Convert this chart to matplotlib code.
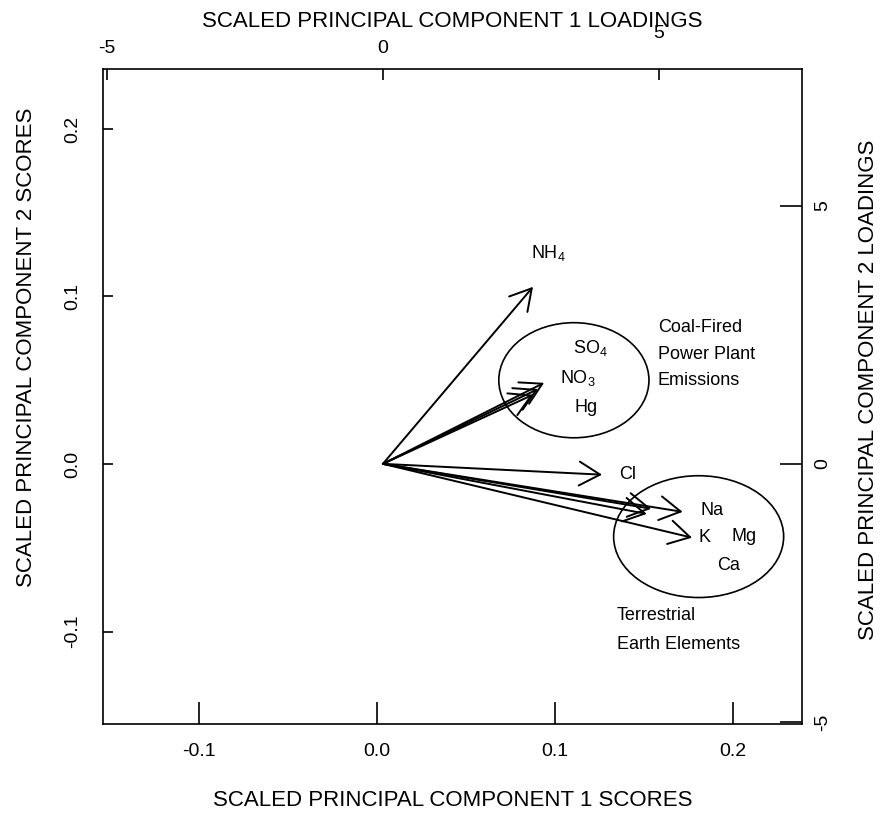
import matplotlib
matplotlib.use("Agg")
import matplotlib.pyplot as plt
from matplotlib.patches import Ellipse

plt.rcParams['font.family'] = ['Liberation Sans', 'DejaVu Sans']
plt.rcParams['mathtext.fontset'] = 'custom'
plt.rcParams['mathtext.rm'] = 'Liberation Sans'
plt.rcParams['mathtext.it'] = 'Liberation Sans'

# loadings (PC1, PC2)
species = ['NH4', 'SO4', 'NO3', 'Hg', 'Cl', 'Na', 'K', 'Mg', 'Ca']
pc1_load = [2.72, 2.92, 2.81, 2.72, 3.97, 5.43, 5.60, 4.86, 4.78]
pc2_load = [3.43, 1.57, 1.45, 1.34, -0.21, -0.93, -1.43, -0.87, -0.97]

score_xticks = [-0.1, 0.0, 0.1, 0.2]
score_yticks = [-0.1, 0.0, 0.1, 0.2]
load_ticks = [-5, 0, 5]

fs = 13       # annotations
tfs = 14      # tick labels
lfs = 16      # axis titles
fig = plt.figure(figsize=(8.88, 8.14), dpi=100)
rect = [0.116, 0.1106, 0.787, 0.8046]

# scores axes (bottom / left)
ax = fig.add_axes(rect)
ax.set_xlim(-0.1539, 0.2388)
ax.set_ylim(-0.1552, 0.2358)
ax.set_xticks(score_xticks)
ax.set_xticklabels(['%.1f' % v for v in score_xticks])
ax.set_yticks(score_yticks)
ax.set_yticklabels(['%.1f' % v for v in score_yticks], rotation=90, va='center')
ax.tick_params(axis='x', direction='in', length=16, width=1.2, pad=14, labelsize=tfs)
ax.tick_params(axis='y', direction='in', length=7, width=1.2, pad=16, labelsize=tfs)
ax.set_xlabel('SCALED PRINCIPAL COMPONENT 1 SCORES', fontsize=lfs, labelpad=21)
ax.set_ylabel('SCALED PRINCIPAL COMPONENT 2 SCORES', fontsize=lfs, labelpad=19)
ax.yaxis.label.set_y(0.575)
for s in ax.spines.values():
    s.set_linewidth(1.2)

# loadings axes (top / right)
axl = fig.add_axes(rect, facecolor='none')
axl.set_xlim(-5.07, 7.59)
axl.set_ylim(-5.04, 7.65)
axl.xaxis.tick_top()
axl.xaxis.set_label_position('top')
axl.yaxis.tick_right()
axl.yaxis.set_label_position('right')
axl.set_xticks(load_ticks)
axl.set_xticklabels(['-5', '0', ''])
axl.set_yticks(load_ticks)
axl.set_yticklabels([str(v) for v in load_ticks], rotation=90, va='center')
axl.tick_params(axis='x', direction='in', length=8, width=1.2, pad=9, labelsize=tfs)
axl.tick_params(axis='y', direction='in', length=16, width=1.2, pad=9, labelsize=tfs)
axl.set_xlabel('SCALED PRINCIPAL COMPONENT 1 LOADINGS', fontsize=lfs, labelpad=9)
axl.set_ylabel('SCALED PRINCIPAL COMPONENT 2 LOADINGS', fontsize=lfs, labelpad=19)
axl.yaxis.label.set_y(0.51)
# the "5" label sits higher, overlapping the title
axl.text(5, 1.042, '5', transform=axl.get_xaxis_transform(), fontsize=tfs,
         ha='center', va='bottom')
for s in axl.spines.values():
    s.set_visible(False)

for x, y in zip(pc1_load, pc2_load):
    axl.annotate('', xy=(x, y), xytext=(0, 0),
                 arrowprops=dict(arrowstyle='->,head_length=0.75,head_width=0.43',
                                 lw=1.4, color='black', shrinkA=0, shrinkB=0,
                                 mutation_scale=20))

labels = {
    'NH4': ('NH$_4$', 2.99, 4.09),
    'SO4': ('SO$_4$', 3.75, 2.25),
    'NO3': ('NO$_3$', 3.53, 1.67),
    'Hg': ('Hg', 3.68, 1.10),
    'Cl': ('Cl', 4.44, -0.21),
    'Na': ('Na', 5.96, -0.91),
    'K': ('K', 5.83, -1.43),
    'Mg': ('Mg', 6.54, -1.40),
    'Ca': ('Ca', 6.27, -1.96),
}
for name in species:
    txt, tx, ty = labels[name]
    axl.text(tx, ty, txt, fontsize=fs, ha='center', va='center')

axl.add_patch(Ellipse((3.46, 1.62), 2.72, 2.23, fill=False, lw=1.2, color='black'))
axl.add_patch(Ellipse((5.72, -1.41), 3.08, 2.36, fill=False, lw=1.2, color='black'))

axl.text(4.98, 2.81, 'Coal-Fired\nPower Plant\nEmissions', fontsize=fs,
         ha='left', va='top', linespacing=1.75)
axl.text(4.24, -2.77, 'Terrestrial\nEarth Elements', fontsize=fs,
         ha='left', va='top', linespacing=1.95)

fig.savefig('out.png', dpi=100)
